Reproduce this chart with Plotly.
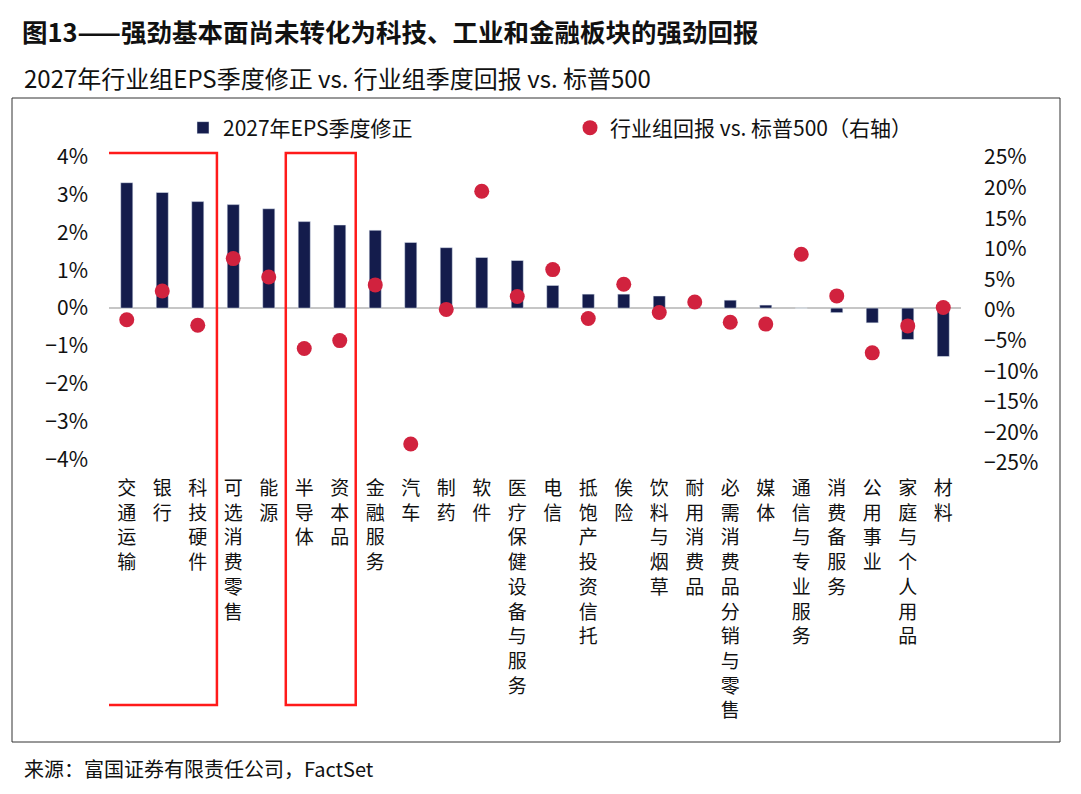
import plotly.graph_objects as go

# 行业组 (x axis categories), spelled as they appear in the picture
categories = ["交通运输", "银行", "科技硬件", "可选消费零售", "能源", "半导体", "资本品",
              "金融服务", "汽车", "制药", "软件", "医疗保健设备与服务", "电信",
              "抵饱产投资信托", "俟险", "饮料与烟草", "耐用消费品", "必需消费品分销与零售",
              "媒体", "通信与专业服务", "消费备服务", "公用事业", "家庭与个人用品", "材料"]

# 2027年EPS季度修正 (%), left axis
eps_revision = [3.32, 3.06, 2.82, 2.74, 2.63, 2.29, 2.20, 2.06, 1.74, 1.60, 1.34, 1.26,
                0.60, 0.37, 0.37, 0.32, 0.02, 0.21, 0.08, 0.0, -0.12, -0.39, -0.83, -1.28]
# 行业组回报 vs. 标普500 (%), right axis
rel_return = [-1.6, 3.1, -2.5, 8.4, 5.4, -6.3, -5.0, 4.1, -21.9, 0.1, 19.4, 2.2,
              6.6, -1.4, 4.2, -0.4, 1.3, -2.0, -2.3, 9.1, 2.3, -7.0, -2.6, 0.4]

left_ticks = [-4, -3, -2, -1, 0, 1, 2, 3, 4]
right_ticks = [-25, -20, -15, -10, -5, 0, 5, 10, 15, 20, 25]

FONT = "Liberation Sans Narrow, Noto Sans CJK SC, sans-serif"
CJK = "Noto Sans CJK SC, sans-serif"

ticktext = ["<br>".join(c) for c in categories]

fig = go.Figure()
fig.add_trace(go.Bar(
    x=categories, y=[v / 100 for v in eps_revision],
    name="2027年EPS季度修正", marker=dict(color="#141c4c"), width=0.34,
))
fig.add_trace(go.Scatter(
    x=categories, y=[v / 100 for v in rel_return], yaxis="y2", mode="markers",
    name="行业组回报 vs. 标普500（右轴）",
    marker=dict(color="#d1223e", size=15),
))

# page body has an 8px margin, so figure pixel = picture pixel - 8
OFF = 8
W, H = 1065, 778
L, T = 109 - OFF, 157 - OFF
R, B = W - (961 - OFF), H - (463 - OFF)
pw, ph = W - L - R, H - T - B


def px(x):
    return (x - OFF - L) / pw


def py(y):
    return (H - B - (y - OFF)) / ph


shapes = [
    # outer chart box
    dict(type="rect", xref="paper", yref="paper", x0=px(12), x1=px(1060), y0=py(742), y1=py(98),
         line=dict(color="#333333", width=1), layer="below"),
    # red highlight boxes
    dict(type="rect", xref="x", yref="paper", x0=-0.62, x1=2.54, y0=py(705), y1=py(153),
         line=dict(color="#ff1a1a", width=2.5)),
    dict(type="rect", xref="x", yref="paper", x0=4.48, x1=6.45, y0=py(705), y1=py(153),
         line=dict(color="#ff1a1a", width=2.5)),
]

annotations = [
    dict(text="2027年行业组EPS季度修正 vs. 行业组季度回报 vs. 标普500", xref="paper", yref="paper",
         x=px(22), y=py(77), xanchor="left", yanchor="middle", showarrow=False,
         font=dict(family=CJK, size=24, color="#111111")),
    dict(text="来源：富国证券有限责任公司，FactSet", xref="paper", yref="paper",
         x=px(22), y=py(768), xanchor="left", yanchor="middle", showarrow=False,
         font=dict(family=CJK, size=20, color="#111111")),
]

fig.update_layout(
    width=W, height=H,
    margin=dict(l=L, r=R, t=T, b=B),
    paper_bgcolor="white", plot_bgcolor="white",
    title=dict(text="<b>图13——强劲基本面尚未转化为科技、工业和金融板块的强劲回报</b>",
               x=(22 - OFF) / W, xanchor="left", y=1 - (33 - OFF) / H, yanchor="middle",
               yref="container", font=dict(family=CJK, size=25.5, color="#111111")),
    font=dict(family=FONT, color="#111111"),
    showlegend=True,
    legend=dict(orientation="h", x=px(183), xanchor="left", y=py(128), yanchor="middle",
                entrywidth=342, font=dict(family=CJK, size=21), bgcolor="rgba(0,0,0,0)"),
    xaxis=dict(tickmode="array", tickvals=categories, ticktext=ticktext,
               tickfont=dict(family=CJK, size=19), ticks="", showline=False,
               ticklabelstandoff=12, range=[-0.5, 23.5]),
    yaxis=dict(range=[-0.041, 0.04], tickvals=[v / 100 for v in left_ticks], tickformat=".0%",
               showgrid=False, zeroline=True, zerolinecolor="#c6c6c6", zerolinewidth=1.5,
               tickfont=dict(family=FONT, size=21), ticklabelstandoff=20),
    yaxis2=dict(range=[-0.25, 0.25], overlaying="y", side="right",
                tickvals=[v / 100 for v in right_ticks], tickformat=".0%",
                showgrid=False, zeroline=False,
                tickfont=dict(family=FONT, size=21), ticklabelstandoff=22),
    shapes=shapes, annotations=annotations,
    bargap=0.6,
)

fig.write_html("out.html")
